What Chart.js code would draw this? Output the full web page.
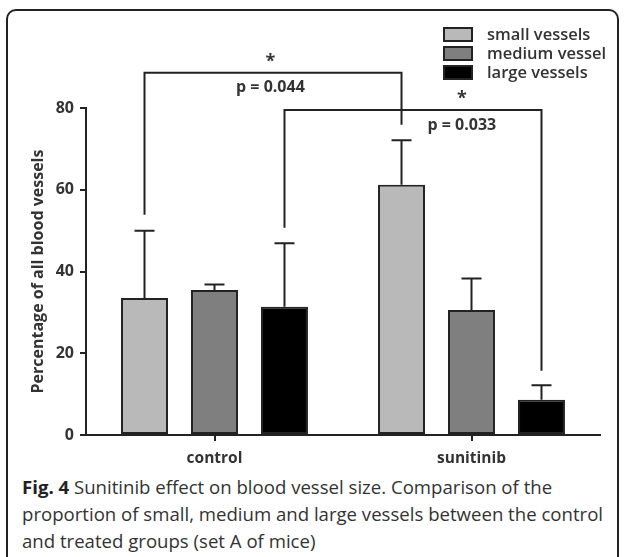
<!DOCTYPE html>
<html>
<head>
<meta charset="utf-8">
<script src="https://cdn.jsdelivr.net/npm/chart.js@4"></script>
<style>
  html, body { margin: 0; padding: 0; background: #fff; }
  body { width: 624px; height: 557px; position: relative; overflow: hidden; }
  #frame {
    position: absolute; left: 6px; top: 9px; width: 613px; height: 600px;
    border: 2px solid #222; border-radius: 10px; box-sizing: border-box;
  }
  #wrap { position: absolute; left: 0; top: 0; width: 624px; height: 470px; }
  #caption {
    position: absolute; left: 22px; top: 473px; width: 598px;
    font-family: "Open Sans", sans-serif; font-size: 18.6px; line-height: 27px;
    color: #333;
  }
  #caption b { color: #222; }
</style>
</head>
<body>
<div id="frame"></div>
<div id="wrap"><canvas id="vesselChart" width="624" height="470"></canvas></div>
<div id="caption"><b>Fig. 4</b> Sunitinib effect on blood vessel size. Comparison of the proportion of small, medium and large vessels between the control and treated groups (set A of mice)</div>
<script>
const categories = ['control', 'sunitinib'];
const seriesLabels = ['small vessels', 'medium vessel', 'large vessels'];
const smallVessels = [33.5, 61.2];
const mediumVessels = [35.5, 30.6];
const largeVessels = [31.4, 8.6];
// upper end of each error bar
const smallErr = [50.0, 72.1];
const mediumErr = [36.8, 38.3];
const largeErr = [46.9, 12.2];
const yTicks = [0, 20, 40, 60, 80];

// significance brackets: dataset compared across the two groups
const sigDataset = [0, 2];
const sigTop = [88.6, 79.5];
const sigLegLeft = [53.9, 50.7];
const sigLegRight = [75.9, 15.7];
const sigText = ['p = 0.044', 'p = 0.033'];
const sigTextPos = [0.49, 0.69];

const ink = '#222';
const textCol = '#333';

const errorBars = {
  id: 'errorBars',
  afterDatasetsDraw(chart) {
    const c = chart.ctx, y = chart.scales.y;
    const errs = [smallErr, mediumErr, largeErr];
    c.save();
    c.strokeStyle = ink;
    c.lineWidth = 2;
    errs.forEach((err, i) => {
      chart.getDatasetMeta(i).data.forEach((bar, j) => {
        const top = y.getPixelForValue(err[j]);
        c.beginPath();
        c.moveTo(bar.x, bar.y);
        c.lineTo(bar.x, top);
        c.moveTo(bar.x - 10, top);
        c.lineTo(bar.x + 10, top);
        c.stroke();
      });
    });
    c.restore();
  }
};

const brackets = {
  id: 'brackets',
  afterDatasetsDraw(chart) {
    const c = chart.ctx, y = chart.scales.y;
    c.save();
    c.strokeStyle = ink;
    c.lineWidth = 2;
    c.fillStyle = textCol;
    c.textAlign = 'center';
    c.textBaseline = 'middle';
    sigDataset.forEach((ds, k) => {
      const bars = chart.getDatasetMeta(ds).data;
      const x1 = bars[0].x, x2 = bars[1].x;
      const yt = y.getPixelForValue(sigTop[k]);
      c.beginPath();
      c.moveTo(x1, y.getPixelForValue(sigLegLeft[k]));
      c.lineTo(x1, yt);
      c.lineTo(x2, yt);
      c.lineTo(x2, y.getPixelForValue(sigLegRight[k]));
      c.stroke();
      const tx = x1 + (x2 - x1) * sigTextPos[k];
      c.font = 'bold 18px "Open Sans"';
      c.fillText('*', tx, yt - 11);
      c.font = 'bold 16px "Open Sans"';
      c.fillText(sigText[k], tx, yt + 15);
    });
    c.restore();
  }
};

const boxLegend = {
  id: 'boxLegend',
  afterDraw(chart) {
    const c = chart.ctx;
    c.save();
    c.font = '600 16.5px "Open Sans"';
    c.textBaseline = 'middle';
    chart.data.datasets.forEach((ds, i) => {
      const top = 28 + i * 19;
      c.fillStyle = ds.backgroundColor;
      c.fillRect(444, top, 28, 13);
      c.strokeStyle = ink;
      c.lineWidth = 2;
      c.strokeRect(444, top, 28, 13);
      c.fillStyle = textCol;
      c.fillText(ds.label, 487, top + 7);
    });
    c.restore();
  }
};

const ctx = document.getElementById('vesselChart').getContext('2d');
new Chart(ctx, {
  type: 'bar',
  data: {
    labels: categories,
    datasets: [
      { label: seriesLabels[0], data: smallVessels, backgroundColor: '#b9b9b9' },
      { label: seriesLabels[1], data: mediumVessels, backgroundColor: '#7f7f7f' },
      { label: seriesLabels[2], data: largeVessels, backgroundColor: '#000000' }
    ]
  },
  options: {
    responsive: false,
    animation: false,
    layout: { padding: { left: 26, right: 24, top: 108, bottom: 0 } },
    datasets: {
      bar: {
        borderColor: ink,
        borderWidth: 2,
        borderSkipped: false,
        categoryPercentage: 0.817,
        barPercentage: 0.671
      }
    },
    plugins: { legend: { display: false }, tooltip: { enabled: false } },
    scales: {
      x: {
        afterFit(s) { s.height = 35; },
        border: { display: true, color: ink, width: 2 },
        grid: { display: true, offset: false, drawOnChartArea: false, drawTicks: true, tickLength: 6, color: ink, lineWidth: 2 },
        ticks: { color: textCol, padding: 8, font: { family: 'Open Sans', size: 15.5, weight: 'bold' } }
      },
      y: {
        min: 0,
        max: 80,
        afterFit(s) { s.width = 60; },
        afterBuildTicks(s) { s.ticks = yTicks.map(v => ({ value: v })); },
        border: { display: true, color: ink, width: 2 },
        grid: { display: true, drawOnChartArea: false, drawTicks: true, tickLength: 6, color: ink, lineWidth: 2 },
        ticks: { color: textCol, padding: 6, font: { family: 'Open Sans', size: 16, weight: 'bold' } },
        title: {
          display: true,
          text: 'Percentage of all blood vessels',
          color: textCol,
          padding: { top: 3, bottom: 0 },
          font: { family: 'Open Sans', size: 16, weight: 'bold' }
        }
      }
    }
  },
  plugins: [errorBars, brackets, boxLegend]
});
</script>
</body>
</html>
